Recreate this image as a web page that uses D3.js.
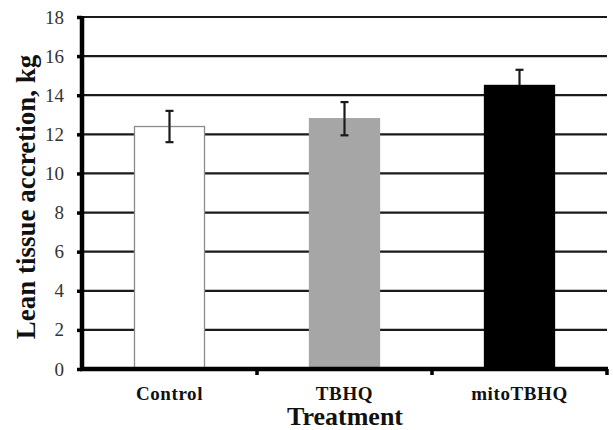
<!DOCTYPE html>
<html>
<head>
<meta charset="utf-8">
<script src="https://cdn.jsdelivr.net/npm/d3@7"></script>
<style>
  body { margin: 0; background: #fff; }
  svg { display: block; font-family: "Liberation Serif", "Times New Roman", serif; }
</style>
</head>
<body>
<div id="chart"></div>
<script>
// data
const categories = ["Control", "TBHQ", "mitoTBHQ"];
const values = [12.4, 12.8, 14.5];
const errors = [0.8, 0.85, 0.8];
const yTicks = [0, 2, 4, 6, 8, 10, 12, 14, 16, 18];
const fills = ["#ffffff", "#a6a6a6", "#000000"];

const config = { width: 613, height: 430, left: 82, right: 6, top: 17, bottom: 61 };
const serif = "'Liberation Serif', 'Times New Roman', serif";

const svg = d3.select("#chart")
    .append("svg")
    .attr("width", config.width)
    .attr("height", config.height);

const x = d3.scaleBand()
    .domain(categories)
    .range([config.left, config.width - config.right])
    .paddingInner(0)
    .paddingOuter(0);

const y = d3.scaleLinear()
    .domain([0, 18])
    .range([config.height - config.bottom, config.top]);

// horizontal grid lines (behind bars)
svg.append("g")
    .selectAll("line")
    .data(yTicks.filter(t => t > 0))
    .enter().append("line")
        .attr("x1", config.left)
        .attr("x2", config.width - config.right)
        .attr("y1", d => y(d))
        .attr("y2", d => y(d))
        .attr("stroke", "#1a1a1a")
        .attr("stroke-width", 2.2);

// bars
const barW = x.bandwidth() * 0.4;
svg.append("g")
    .selectAll("rect")
    .data(values)
    .enter().append("rect")
        .attr("x", (d, i) => x(categories[i]) + (x.bandwidth() - barW) / 2)
        .attr("y", d => y(d))
        .attr("width", barW)
        .attr("height", d => y(0) - y(d))
        .attr("fill", (d, i) => fills[i])
        .attr("stroke", (d, i) => i == 0 ? "#8c8c8c" : fills[i])
        .attr("stroke-width", 1.3);

// error bars (the part inside the black bar disappears in it)
const eb = svg.append("g")
    .attr("stroke-width", 2.2);
values.forEach((v, i) => {
    let cx = x(categories[i]) + x.bandwidth() / 2;
    let low = fills[i] == "#000000" ? "#000" : "#1a1a1a";
    eb.append("line")
        .attr("x1", cx).attr("x2", cx)
        .attr("y1", y(v + errors[i])).attr("y2", y(v))
        .attr("stroke", "#1a1a1a");
    eb.append("line")
        .attr("x1", cx).attr("x2", cx)
        .attr("y1", y(v)).attr("y2", y(v - errors[i]))
        .attr("stroke", low);
    eb.append("line")
        .attr("x1", cx - 4).attr("x2", cx + 4)
        .attr("y1", y(v + errors[i])).attr("y2", y(v + errors[i]))
        .attr("stroke", "#1a1a1a");
    eb.append("line")
        .attr("x1", cx - 4).attr("x2", cx + 4)
        .attr("y1", y(v - errors[i])).attr("y2", y(v - errors[i]))
        .attr("stroke", low);
});

// y axis
const yAxis = svg.append("g")
    .attr("transform", `translate(${config.left},0)`)
    .call(d3.axisLeft(y).tickValues(yTicks).tickSize(5).tickPadding(13))
    .attr("font-family", serif)
    .attr("font-size", 19);
yAxis.select(".domain").attr("stroke", "#000").attr("stroke-width", 4.5)
    .attr("d", `M0,${config.top - 1}V${y(0) + 2}`);
yAxis.selectAll(".tick line").attr("stroke", "#000").attr("stroke-width", 3.5);
yAxis.selectAll(".tick text")
    .attr("fill", "#333");

// x axis
const xAxis = svg.append("g")
    .attr("transform", `translate(0,${y(0)})`);
xAxis.append("line")
    .attr("x1", config.left - 2)
    .attr("x2", config.width - config.right + 1)
    .attr("stroke", "#000")
    .attr("stroke-width", 4.5);
xAxis.selectAll(".sep")
    .data(categories)
    .enter().append("line")
        .attr("class", "sep")
        .attr("x1", d => x(d) + x.bandwidth())
        .attr("x2", d => x(d) + x.bandwidth())
        .attr("y1", 0)
        .attr("y2", 6)
        .attr("stroke", "#000")
        .attr("stroke-width", 3.5);
xAxis.selectAll(".lab")
    .data(categories)
    .enter().append("text")
        .attr("class", "lab")
        .attr("x", d => x(d) + x.bandwidth() / 2)
        .attr("y", 31)
        .attr("text-anchor", "middle")
        .attr("font-weight", "bold")
        .style("font-size", "19px")
        .style("letter-spacing", "0.6px")
        .attr("fill", "#111")
        .text(d => d);

// axis titles
svg.append("text")
    .attr("x", 345)
    .attr("y", 425)
    .attr("text-anchor", "middle")
    .attr("font-weight", "bold")
    .style("font-size", "26px")
    .attr("fill", "#111")
    .text("Treatment");

svg.append("text")
    .attr("transform", "translate(35,197) rotate(-90)")
    .attr("text-anchor", "middle")
    .attr("font-weight", "bold")
    .style("font-size", "27px")
    .attr("fill", "#111")
    .text("Lean tissue accretion, kg");
</script>
</body>
</html>
